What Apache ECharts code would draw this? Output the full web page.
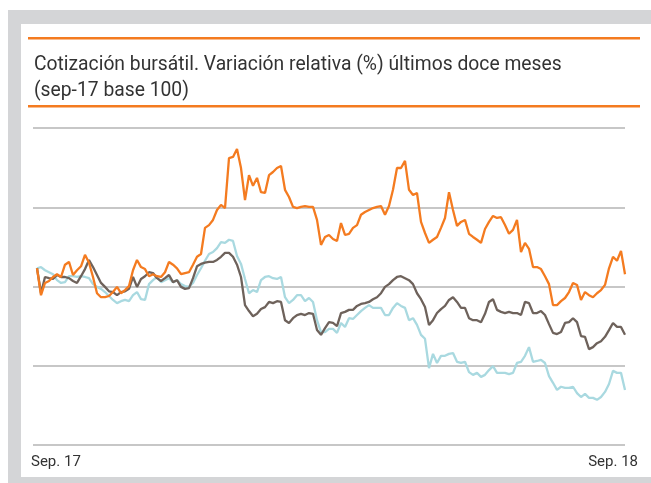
<!DOCTYPE html>
<html>
<head>
<meta charset="utf-8">
<script src="https://cdn.jsdelivr.net/npm/echarts@6/dist/echarts.min.js"></script>
<style>
  html, body { margin: 0; padding: 0; background: #fff; }
  #main { width: 651px; height: 483px; }
</style>
</head>
<body>
<div id="main"></div>
<script>
const dom = document.getElementById('main');
const myChart = echarts.init(dom);

const titleLines = ['Cotización bursátil. Variación relativa (%) últimos doce meses', '(sep-17 base 100)'];
const xLabels = ['Sep. 17', 'Sep. 18'];

// valores diarios aproximados (base 100)
const orange = [
  104.6, 97.8, 100.9, 101.4, 102.4, 103.1, 102.4, 105.5, 106.2, 102.9,
  104.1, 105.1, 108.0, 106.0, 102.4, 98.3, 97.3, 97.3, 97.6, 98.6,
  99.9, 98.3, 99.1, 100.1, 104.1, 106.7, 104.9, 104.4, 102.6, 103.1,
  102.6, 102.4, 103.6, 106.2, 105.5, 104.6, 103.1, 103.4, 103.6, 105.5,
  107.5, 108.2, 114.8, 115.5, 116.8, 119.3, 120.6, 119.8, 132.4, 132.7,
  134.7, 129.9, 121.8, 128.1, 125.4, 127.4, 123.8, 123.6, 128.1, 128.9,
  129.9, 130.4, 124.4, 122.6, 120.1, 119.8, 120.1, 120.3, 120.1, 120.1,
  116.8, 110.5, 112.5, 113.0, 112.0, 111.5, 116.0, 113.0, 113.3, 114.8,
  115.5, 118.1, 118.8, 119.3, 119.8, 120.1, 120.3, 118.1, 120.3, 124.4,
  129.9, 129.9, 131.7, 124.4, 123.1, 123.6, 116.3, 113.5, 111.0, 111.8,
  112.5, 114.8, 117.3, 123.8, 119.3, 115.3, 116.3, 116.8, 113.3, 112.5,
  111.8, 111.0, 114.5, 116.3, 117.8, 117.3, 117.5, 115.5, 113.3, 114.3,
  116.8, 108.7, 111.0, 109.5, 104.9, 104.9, 104.4, 102.6, 100.6, 95.3,
  95.3, 96.3, 97.1, 98.6, 100.9, 100.4, 96.6, 98.6, 97.8, 97.3,
  98.3, 99.1, 100.4, 104.6, 107.5, 106.5, 109.0, 103.1
];

const brown = [
  104.6, 98.3, 102.4, 102.1, 101.9, 102.9, 102.4, 102.4, 102.1, 101.4,
  100.9, 102.6, 104.4, 106.7, 104.9, 102.9, 100.9, 99.9, 98.8, 98.6,
  97.8, 98.6, 98.8, 99.4, 102.4, 99.9, 101.9, 102.6, 103.6, 103.4,
  102.1, 101.4, 102.1, 102.9, 101.1, 101.6, 99.9, 99.4, 99.6, 102.1,
  105.1, 105.7, 106.0, 106.2, 106.2, 106.7, 107.5, 108.5, 108.5, 107.5,
  105.5, 102.4, 95.3, 93.8, 92.5, 93.1, 94.3, 94.8, 96.1, 95.8,
  96.3, 96.1, 91.5, 90.8, 92.0, 92.8, 93.1, 92.8, 93.3, 93.1,
  89.0, 87.8, 89.5, 91.0, 90.8, 90.0, 93.3, 93.6, 94.1, 94.1,
  95.1, 95.6, 95.8, 96.1, 96.8, 97.3, 98.3, 99.9, 100.6, 101.6,
  102.4, 102.6, 102.1, 101.6, 100.6, 98.3, 96.8, 94.8, 90.3, 91.5,
  93.3, 94.3, 95.1, 96.6, 97.3, 96.1, 94.6, 94.6, 92.0, 91.5,
  91.5, 91.0, 93.1, 96.1, 96.8, 94.1, 93.6, 93.3, 93.6, 93.3,
  93.3, 92.8, 96.1, 95.8, 93.3, 93.3, 93.8, 92.8, 90.5, 88.3,
  88.0, 88.5, 90.8, 91.0, 92.0, 91.0, 87.5, 87.3, 84.2, 84.7,
  85.7, 86.2, 87.3, 89.0, 90.8, 89.8, 89.8, 87.8
];

const blue = [
  104.6, 104.9, 104.1, 103.6, 103.1, 101.6, 100.9, 101.1, 102.6, 102.6,
  102.4, 102.6, 102.4, 102.1, 100.6, 99.9, 99.4, 98.6, 97.6, 96.6,
  95.8, 96.3, 96.6, 96.3, 97.8, 98.6, 96.8, 96.6, 100.6, 101.6,
  102.4, 101.1, 101.6, 102.1, 101.1, 101.6, 100.6, 100.1, 99.9, 100.9,
  102.9, 104.6, 106.5, 108.2, 108.7, 109.7, 111.2, 111.0, 111.8, 111.5,
  107.7, 105.7, 101.9, 98.3, 99.1, 98.6, 101.6, 102.4, 102.6, 102.1,
  101.9, 102.4, 97.3, 95.8, 96.6, 97.8, 97.8, 96.3, 97.1, 96.1,
  91.5, 88.5, 88.5, 89.3, 89.3, 88.3, 90.8, 89.8, 92.0, 91.8,
  92.8, 93.8, 94.6, 95.3, 94.6, 94.6, 94.6, 92.8, 92.8, 94.6,
  95.8, 95.1, 94.6, 91.5, 92.0, 90.3, 87.8, 86.8, 79.4, 83.0,
  80.7, 82.5, 82.5, 83.0, 83.2, 81.0, 80.7, 81.0, 78.4, 77.7,
  78.2, 77.2, 77.7, 78.9, 79.9, 78.2, 78.2, 78.2, 77.9, 78.2,
  80.7, 81.0, 82.5, 84.7, 81.0, 81.2, 81.5, 80.7, 77.4, 75.7,
  73.9, 74.7, 74.4, 74.4, 74.7, 73.1, 72.1, 72.9, 71.9, 71.9,
  71.4, 72.1, 73.4, 75.4, 78.7, 78.2, 78.2, 73.9
];

const toPairs = (arr) => arr.map((v, i) => [i, v]);

const fontFamily = 'Roboto';

const option = {
  animation: false,
  backgroundColor: '#fff',
  graphic: [
    { type: 'rect', left: 8, top: 10, shape: { width: 660, height: 480 }, style: { fill: '#d4d5d7' }, z: -10 },
    { type: 'rect', left: 21, top: 24, shape: { width: 640, height: 453 }, style: { fill: '#fff' }, z: -9 },
    { type: 'rect', left: 28, top: 37, shape: { width: 612, height: 2.5 }, style: { fill: '#f47b20' } },
    { type: 'rect', left: 28, top: 105, shape: { width: 612, height: 2.5 }, style: { fill: '#f47b20' } },
    { type: 'text', left: 31, top: 455, style: { text: xLabels[0], fill: '#333', font: '15px ' + fontFamily } },
    { type: 'text', right: 13, top: 455, style: { text: xLabels[1], fill: '#333', font: '15px ' + fontFamily } }
  ],
  title: {
    text: titleLines.join('\n'),
    left: 29,
    top: 47,
    textStyle: { color: '#333', fontSize: 19.3, fontWeight: 'normal', fontFamily: fontFamily, lineHeight: 26 }
  },
  grid: { left: 33, right: 26, top: 128, bottom: 38 },
  xAxis: {
    type: 'value',
    min: -1,
    max: 147,
    axisLine: { show: false },
    axisTick: { show: false },
    axisLabel: { show: false },
    splitLine: { show: false }
  },
  yAxis: {
    type: 'value',
    min: 60,
    max: 140,
    interval: 20,
    axisLine: { show: false },
    axisTick: { show: false },
    axisLabel: { show: false },
    splitLine: { show: true, lineStyle: { color: '#b5b5b5', width: 1.5 } }
  },
  series: [
    { type: 'line', data: toPairs(blue), showSymbol: false, lineStyle: { color: '#a9d9e0', width: 2.3 } },
    { type: 'line', data: toPairs(brown), showSymbol: false, lineStyle: { color: '#6e625b', width: 2.3 } },
    { type: 'line', data: toPairs(orange), showSymbol: false, lineStyle: { color: '#f47b20', width: 2.3 } }
  ]
};

myChart.setOption(option);

window.addEventListener('resize', myChart.resize);
</script>
</body>
</html>
